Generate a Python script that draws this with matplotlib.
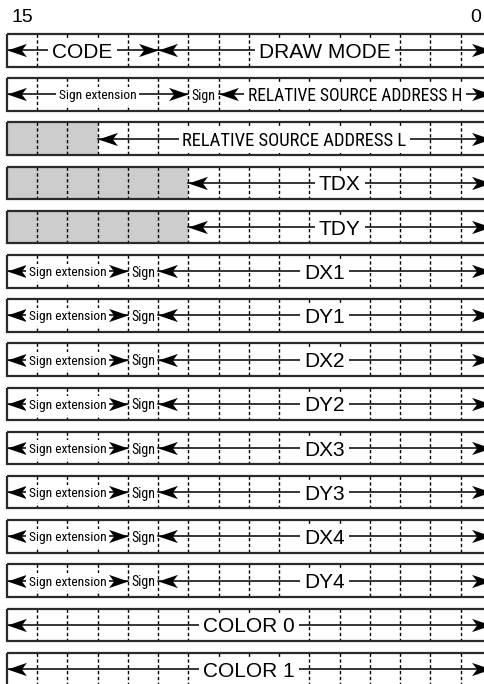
"""
Register layout diagram: 16-bit words, one field map per row.
"""

import matplotlib
matplotlib.use('Agg')
import matplotlib.pyplot as plt
from matplotlib import font_manager
from matplotlib.path import Path
from matplotlib.patches import Rectangle

# ============== Data ==============
MSB_LABEL = '15'
LSB_LABEL = '0'
N_BITS = 16

# Each row: list of (label, msb, lsb, kind)
# kind: 'arrow' = field with arrows, 'text' = label only, 'fill' = unused (gray)
ROW_1 = [('CODE', 15, 11, 'arrow'), ('DRAW MODE', 10, 0, 'arrow')]
ROW_2 = [('Sign extension', 15, 10, 'arrow'), ('Sign', 9, 9, 'text'),
         ('RELATIVE SOURCE ADDRESS H', 8, 0, 'arrow')]
ROW_3 = [('', 15, 13, 'fill'), ('RELATIVE SOURCE ADDRESS L', 12, 0, 'arrow')]
ROW_4 = [('', 15, 10, 'fill'), ('TDX', 9, 0, 'arrow')]
ROW_5 = [('', 15, 10, 'fill'), ('TDY', 9, 0, 'arrow')]
DELTA_NAMES = ['DX1', 'DY1', 'DX2', 'DY2', 'DX3', 'DY3', 'DX4', 'DY4']
DELTA_ROWS = [[('Sign extension', 15, 12, 'arrow'), ('Sign', 11, 11, 'text'),
               (name, 10, 0, 'arrow')] for name in DELTA_NAMES]
ROW_COLOR0 = [('COLOR 0', 15, 0, 'arrow')]
ROW_COLOR1 = [('COLOR 1', 15, 0, 'arrow')]

ROWS = [ROW_1, ROW_2, ROW_3, ROW_4, ROW_5] + DELTA_ROWS + [ROW_COLOR0, ROW_COLOR1]

# ============== Layout (pixels of the 485x684 picture) ==============
W_PX, H_PX = 485, 684
LEFT_PX = 7.0
BIT_PX = 30.25
TOP_PX = 34.0
PITCH_PX = 44.2
ROW_H = 32.5 / PITCH_PX

GRAY = '#cdcdcd'
EDGE = '#2a2a2a'

# width (px) the condensed labels take in the picture
NARROW_WIDTH_PX = {
    'RELATIVE SOURCE ADDRESS H': 214,
    'RELATIVE SOURCE ADDRESS L': 225,
    'Sign extension': 78,
    'Sign': 24,
}
NARROW_MAX_PT = {'RELATIVE': 15.0, 'Sign': 12.0}

_names = {f.name for f in font_manager.fontManager.ttflist}
NARROW = next((n for n in ['Liberation Sans Narrow', 'Roboto Condensed',
                           'Open Sans Condensed', 'Arial Narrow']
               if n in _names), 'Liberation Sans')

# stealth arrow head, tip at (0, 0)
HEAD_R = Path([(0, 0), (-1, 0.34), (-0.74, 0), (-1, -0.34), (0, 0)],
              [Path.MOVETO, Path.LINETO, Path.LINETO, Path.LINETO, Path.CLOSEPOLY])
HEAD_L = Path([(0, 0), (1, 0.34), (0.74, 0), (1, -0.34), (0, 0)],
              [Path.MOVETO, Path.LINETO, Path.LINETO, Path.LINETO, Path.CLOSEPOLY])


def col(bit):
    """Left edge (in bit columns) of a bit, MSB on the left."""
    return N_BITS - 1 - bit


def draw_row(ax, i, fields, narrow_texts):
    top, bot = i, i + ROW_H
    mid = i + ROW_H / 2

    # unused bits
    for label, msb, lsb, kind in fields:
        if kind == 'fill':
            ax.add_patch(Rectangle((col(msb), top), msb - lsb + 1, ROW_H,
                                   facecolor=GRAY, edgecolor='none', zorder=1))

    # dashed bit separators
    for c in range(1, N_BITS):
        ax.plot([c, c], [top, bot], color='black', lw=1.0,
                linestyle=(0, (2.4, 1.8)), zorder=2)

    # box
    ax.add_patch(Rectangle((0, top), N_BITS, ROW_H, facecolor='none',
                           edgecolor=EDGE, lw=1.6, zorder=8))

    for label, msb, lsb, kind in fields:
        x0, x1 = col(msb), col(lsb) + 1
        xc = (x0 + x1) / 2
        if kind == 'arrow':
            ax.plot([x0, x1], [mid, mid], color='black', lw=1.1, zorder=3)
            ax.plot([x0], [mid], marker=HEAD_L, markersize=28, color='black',
                    markeredgewidth=0, zorder=4)
            ax.plot([x1], [mid], marker=HEAD_R, markersize=28, color='black',
                    markeredgewidth=0, zorder=4)
        if kind in ('arrow', 'text') and label:
            bbox = None
            if kind == 'arrow':
                bbox = dict(boxstyle='square,pad=0.2', facecolor='white',
                            edgecolor='none')
            if label in NARROW_WIDTH_PX:
                t = ax.text(xc, mid, label, ha='center', va='center_baseline',
                            color='black', bbox=bbox, zorder=6,
                            family=[NARROW, 'DejaVu Sans'], fontsize=12)
                narrow_texts.append(t)
            else:
                ax.text(xc, mid, label, ha='center', va='center_baseline',
                        color='black', bbox=bbox, zorder=6,
                        family=['Liberation Sans', 'DejaVu Sans'], fontsize=15)


def fit_narrow(fig, texts):
    """Size condensed labels so they take the width they have in the picture."""
    renderer = fig.canvas.get_renderer()
    for t in texts:
        label = t.get_text()
        w = t.get_window_extent(renderer).width
        cap = NARROW_MAX_PT['RELATIVE' if label.startswith('RELATIVE') else 'Sign']
        size = min(cap, t.get_fontsize() * NARROW_WIDTH_PX[label] / w)
        t.set_fontsize(size)


def main():
    fig = plt.figure(figsize=(W_PX / 100, H_PX / 100), dpi=100)
    ax = fig.add_axes([0, 0, 1, 1])
    ax.set_xlim(-LEFT_PX / BIT_PX, (W_PX - LEFT_PX) / BIT_PX)
    ax.set_ylim((H_PX - TOP_PX) / PITCH_PX, -TOP_PX / PITCH_PX)
    ax.axis('off')

    narrow_texts = []
    for i, fields in enumerate(ROWS):
        draw_row(ax, i, fields, narrow_texts)
    fit_narrow(fig, narrow_texts)

    # bit numbers above the first row
    y_num = -17.0 / PITCH_PX
    ax.text(col(15) + 0.5, y_num, MSB_LABEL, ha='center', va='center',
            fontsize=14, family=['Liberation Sans', 'DejaVu Sans'])
    ax.text(col(0) + 0.5, y_num, LSB_LABEL, ha='center', va='center',
            fontsize=14, family=['Liberation Sans', 'DejaVu Sans'])

    fig.savefig('out.png', dpi=100, facecolor='white')


if __name__ == '__main__':
    main()
